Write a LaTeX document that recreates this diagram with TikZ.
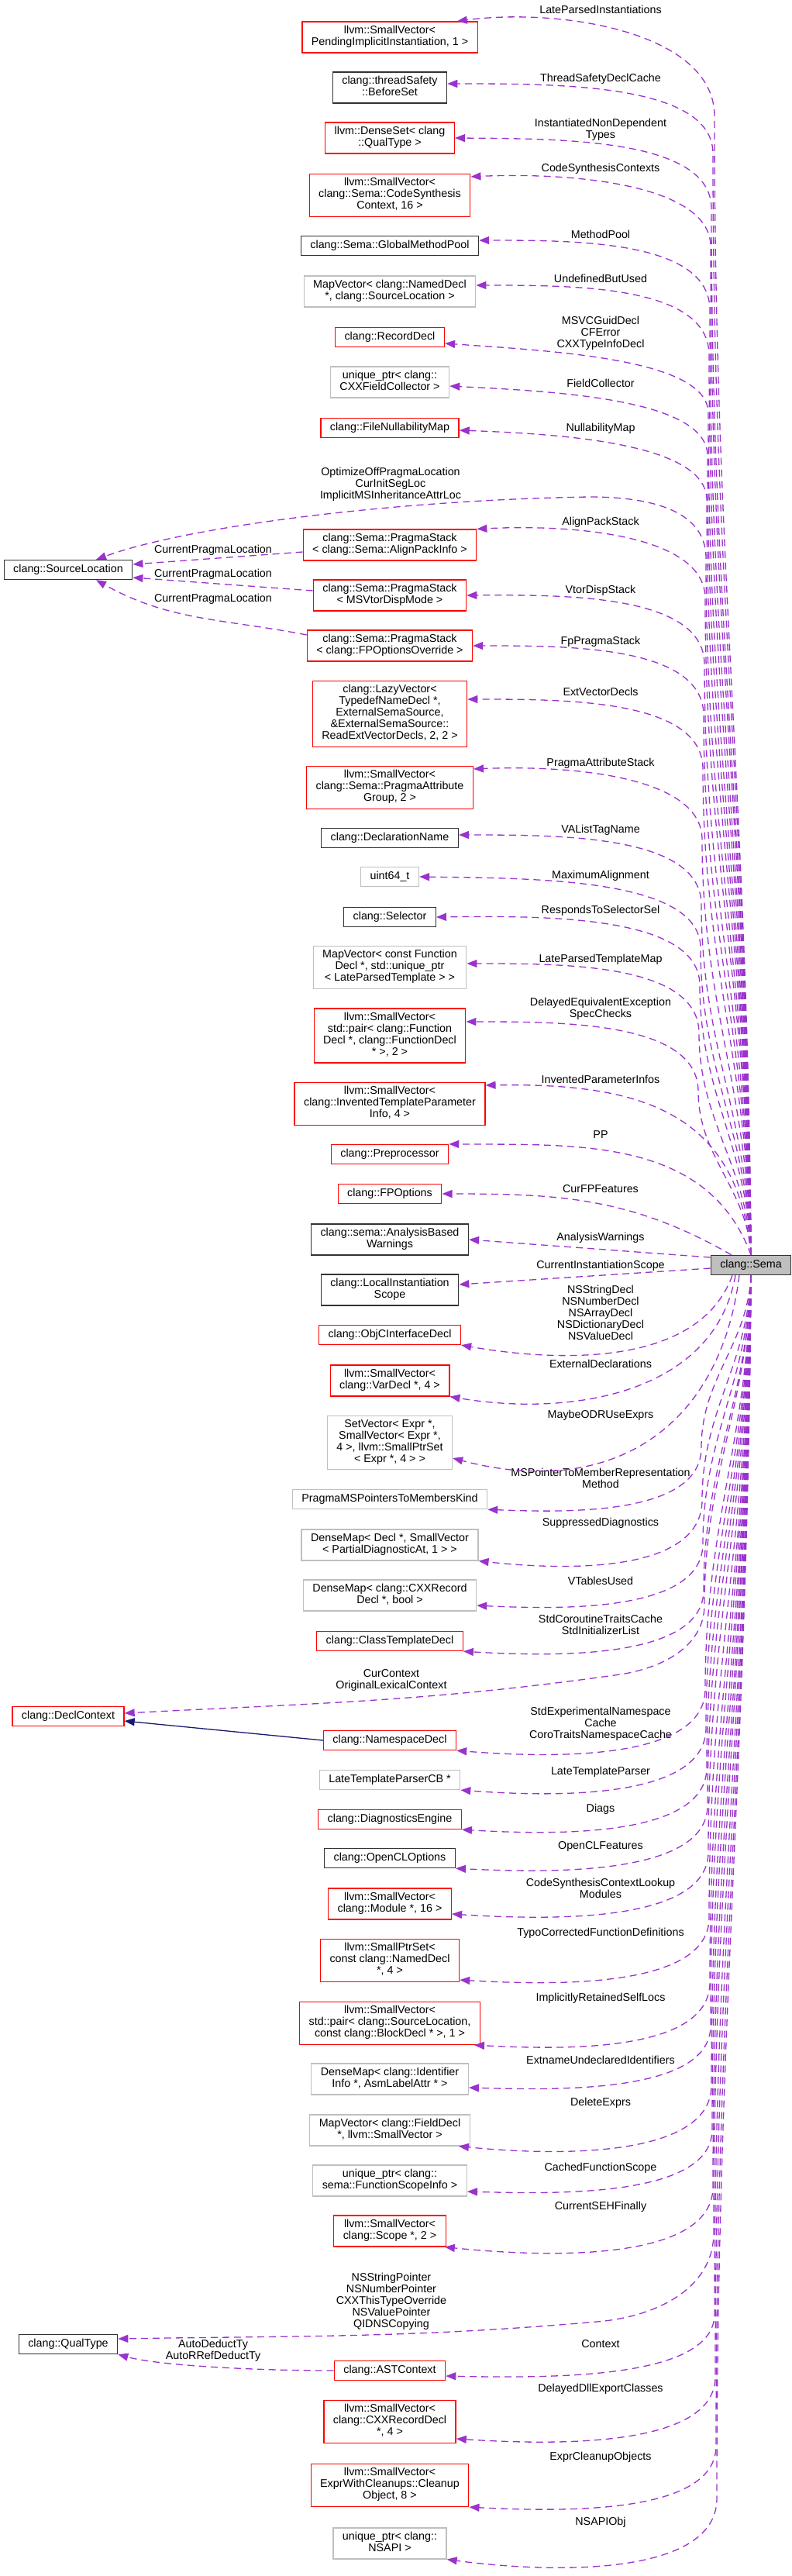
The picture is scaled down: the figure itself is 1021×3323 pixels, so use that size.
\documentclass[tikz,border=0pt]{standalone}
\usepackage{fontspec}
\setmainfont{Liberation Sans}
\usetikzlibrary{arrows.meta}
\definecolor{morado}{HTML}{9A32CD}
\definecolor{azulosc}{HTML}{191970}
\definecolor{grisclaro}{HTML}{BFBFBF}
\newcommand{\letra}{\fontsize{14.3}{15}\selectfont}

\begin{document}
\begin{tikzpicture}[
        x=1pt, y=1pt,
        caja/.style={rectangle, draw, line width=1.3pt, align=center, inner xsep=12pt, inner ysep=5pt, font=\letra, execute at begin node=\strut, execute at end node=\strut},
        roja/.style={caja, draw=red},
        negra/.style={caja, draw=black!80},
        gris/.style={caja, draw=grisclaro},
        etiqueta/.style={align=center, inner sep=0pt, font=\letra, execute at begin node=\strut, execute at end node=\strut},
        flecha/.style={-{Triangle[length=13pt,width=10pt]}, draw=morado, line width=1.3pt, dash pattern=on 9pt off 6pt},
        herencia/.style={-{Triangle[length=13pt,width=10pt]}, draw=azulosc, line width=1.3pt}
    ]
        \useasboundingbox (0,0) rectangle (1021,-3323);

        % central class
        \node[negra, fill=grisclaro] (sema) at (969,-1632) {clang::Sema};

        % left column
        \node[negra] (srcloc) at (88,-735) {clang::SourceLocation};
        \node[roja] (declctx) at (88,-2214) {clang::DeclContext};
        \node[negra] (qualtype) at (88,-3024) {clang::QualType};

        % member types
        \node[roja] (pendinst) at (503,-48) {llvm::SmallVector<\\ PendingImplicitInstantiation, 1 >};
        \node[negra] (beforeset) at (503,-113) {clang::threadSafety\\::BeforeSet};
        \node[roja] (denseset) at (503,-178) {llvm::DenseSet< clang\\::QualType >};
        \node[roja] (codesyn) at (503,-252) {llvm::SmallVector<\\ clang::Sema::CodeSynthesis\\Context, 16 >};
        \node[negra] (methodpool) at (503,-317) {clang::Sema::GlobalMethodPool};
        \node[gris] (undefmap) at (503,-376) {MapVector< clang::NamedDecl\\*, clang::SourceLocation >};
        \node[roja] (recorddecl) at (503,-435) {clang::RecordDecl};
        \node[gris] (fieldcoll) at (503,-493) {unique\_ptr< clang::\\CXXFieldCollector >};
        \node[roja] (nullmap) at (503,-552) {clang::FileNullabilityMap};
        \node[roja] (alignstack) at (503,-703) {clang::Sema::PragmaStack\\< clang::Sema::AlignPackInfo >};
        \node[roja] (vtorstack) at (503,-768) {clang::Sema::PragmaStack\\< MSVtorDispMode >};
        \node[roja] (fpstack) at (503,-833) {clang::Sema::PragmaStack\\< clang::FPOptionsOverride >};
        \node[roja] (lazyvec) at (503,-921) {clang::LazyVector<\\ TypedefNameDecl *,\\ ExternalSemaSource,\\ \&ExternalSemaSource::\\ReadExtVectorDecls, 2, 2 >};
        \node[roja] (pragattr) at (503,-1016) {llvm::SmallVector<\\ clang::Sema::PragmaAttribute\\Group, 2 >};
        \node[negra] (declname) at (503,-1081) {clang::DeclarationName};
        \node[gris] (maxalign) at (503,-1131) {uint64\_t};
        \node[negra] (selector) at (503,-1183) {clang::Selector};
        \node[gris] (lptmap) at (503,-1248) {MapVector< const Function\\Decl *, std::unique\_ptr\\< LateParsedTemplate > >};
        \node[roja] (eqexc) at (503,-1336) {llvm::SmallVector<\\ std::pair< clang::Function\\Decl *, clang::FunctionDecl\\* >, 2 >};
        \node[roja] (invparam) at (503,-1424) {llvm::SmallVector<\\ clang::InventedTemplateParameter\\Info, 4 >};
        \node[roja] (pp) at (503,-1489) {clang::Preprocessor};
        \node[roja] (fpopts) at (503,-1540) {clang::FPOptions};
        \node[negra] (warnings) at (503,-1599) {clang::sema::AnalysisBased\\Warnings};
        \node[negra] (localscope) at (503,-1664) {clang::LocalInstantiation\\Scope};
        \node[roja] (objciface) at (503,-1722) {clang::ObjCInterfaceDecl};
        \node[roja] (vardecls) at (503,-1781) {llvm::SmallVector<\\ clang::VarDecl *, 4 >};
        \node[gris] (odruse) at (503,-1861) {SetVector< Expr *,\\ SmallVector< Expr *,\\ 4 >, llvm::SmallPtrSet\\< Expr *, 4 > >};
        \node[gris] (ptrkind) at (503,-1934) {PragmaMSPointersToMembersKind};
        \node[gris] (suppdiag) at (503,-1993) {DenseMap< Decl *, SmallVector\\< PartialDiagnosticAt, 1 > >};
        \node[gris] (vtables) at (503,-2058) {DenseMap< clang::CXXRecord\\Decl *, bool >};
        \node[roja] (classtmpl) at (503,-2117) {clang::ClassTemplateDecl};
        \node[roja] (nsdecl) at (503,-2245) {clang::NamespaceDecl};
        \node[gris] (lateparser) at (503,-2296) {LateTemplateParserCB *};
        \node[roja] (diags) at (503,-2347) {clang::DiagnosticsEngine};
        \node[negra] (openclopts) at (503,-2397) {clang::OpenCLOptions};
        \node[roja] (modules) at (503,-2456) {llvm::SmallVector<\\ clang::Module *, 16 >};
        \node[roja] (typocorr) at (503,-2529) {llvm::SmallPtrSet<\\ const clang::NamedDecl\\*, 4 >};
        \node[roja] (selflocs) at (503,-2610) {llvm::SmallVector<\\ std::pair< clang::SourceLocation,\\ const clang::BlockDecl * >, 1 >};
        \node[gris] (extname) at (503,-2682) {DenseMap< clang::Identifier\\Info *, AsmLabelAttr * >};
        \node[gris] (delexprs) at (503,-2748) {MapVector< clang::FieldDecl\\*, llvm::SmallVector >};
        \node[gris] (funcscope) at (503,-2813) {unique\_ptr< clang::\\sema::FunctionScopeInfo >};
        \node[roja] (scopes) at (503,-2878) {llvm::SmallVector<\\ clang::Scope *, 2 >};
        \node[roja] (astctx) at (503,-3058) {clang::ASTContext};
        \node[roja] (dllexport) at (503,-3124) {llvm::SmallVector<\\ clang::CXXRecordDecl\\*, 4 >};
        \node[roja] (cleanups) at (503,-3206) {llvm::SmallVector<\\ ExprWithCleanups::Cleanup\\Object, 8 >};
        \node[gris] (nsapi) at (503,-3281) {unique\_ptr< clang::\\NSAPI >};

        % member labels
        \node[etiqueta] (lbinst) at (775,-14) {LateParsedInstantiations};
        \node[etiqueta] (lbsafety) at (775,-102) {ThreadSafetyDeclCache};
        \node[etiqueta] (lbnondep) at (775,-168) {InstantiatedNonDependent\\Types};
        \node[etiqueta] (lbcodesyn) at (775,-218) {CodeSynthesisContexts};
        \node[etiqueta] (lbpool) at (775,-304) {MethodPool};
        \node[etiqueta] (lbundef) at (775,-361) {UndefinedButUsed};
        \node[etiqueta] (lbrecord) at (775,-431) {MSVCGuidDecl\\CFError\\CXXTypeInfoDecl};
        \node[etiqueta] (lbfield) at (775,-496) {FieldCollector};
        \node[etiqueta] (lbnull) at (775,-553) {NullabilityMap};
        \node[etiqueta] (lbloc) at (504,-626) {OptimizeOffPragmaLocation\\CurInitSegLoc\\ImplicitMSInheritanceAttrLoc};
        \node[etiqueta] (lbalign) at (775,-674) {AlignPackStack};
        \node[etiqueta] (lbvtor) at (775,-762) {VtorDispStack};
        \node[etiqueta] (lbfp) at (775,-828) {FpPragmaStack};
        \node[etiqueta] (lbcura) at (275,-710) {CurrentPragmaLocation};
        \node[etiqueta] (lbcurb) at (275,-741) {CurrentPragmaLocation};
        \node[etiqueta] (lbcurc) at (275,-773) {CurrentPragmaLocation};
        \node[etiqueta] (lbext) at (775,-894) {ExtVectorDecls};
        \node[etiqueta] (lbpragattr) at (775,-985) {PragmaAttributeStack};
        \node[etiqueta] (lbvalist) at (775,-1071) {VAListTagName};
        \node[etiqueta] (lbmaxalign) at (775,-1130) {MaximumAlignment};
        \node[etiqueta] (lbresponds) at (775,-1175) {RespondsToSelectorSel};
        \node[etiqueta] (lblptmap) at (775,-1238) {LateParsedTemplateMap};
        \node[etiqueta] (lbeqexc) at (775,-1302) {DelayedEquivalentException\\SpecChecks};
        \node[etiqueta] (lbinvparam) at (775,-1394) {InventedParameterInfos};
        \node[etiqueta] (lbpp) at (775,-1465) {PP};
        \node[etiqueta] (lbfpfeat) at (775,-1535) {CurFPFeatures};
        \node[etiqueta] (lbwarn) at (775,-1597) {AnalysisWarnings};
        \node[etiqueta] (lbscope) at (775,-1633) {CurrentInstantiationScope};
        \node[etiqueta] (lbnsdecl) at (775,-1696) {NSStringDecl\\NSNumberDecl\\NSArrayDecl\\NSDictionaryDecl\\NSValueDecl};
        \node[etiqueta] (lbextdecl) at (775,-1761) {ExternalDeclarations};
        \node[etiqueta] (lbodr) at (775,-1826) {MaybeODRUseExprs};
        \node[etiqueta] (lbptrrep) at (775,-1909) {MSPointerToMemberRepresentation\\Method};
        \node[etiqueta] (lbsupp) at (775,-1965) {SuppressedDiagnostics};
        \node[etiqueta] (lbvtables) at (775,-2041) {VTablesUsed};
        \node[etiqueta] (lbcoro) at (775,-2098) {StdCoroutineTraitsCache\\StdInitializerList};
        \node[etiqueta] (lbcurctx) at (505,-2168) {CurContext\\OriginalLexicalContext};
        \node[etiqueta] (lbstdexp) at (775,-2225) {StdExperimentalNamespace\\Cache\\CoroTraitsNamespaceCache};
        \node[etiqueta] (lblateparser) at (775,-2286) {LateTemplateParser};
        \node[etiqueta] (lbdiags) at (775,-2334) {Diags};
        \node[etiqueta] (lbopencl) at (775,-2382) {OpenCLFeatures};
        \node[etiqueta] (lbmodules) at (775,-2438) {CodeSynthesisContextLookup\\Modules};
        \node[etiqueta] (lbtypo) at (775,-2494) {TypoCorrectedFunctionDefinitions};
        \node[etiqueta] (lbself) at (775,-2578) {ImplicitlyRetainedSelfLocs};
        \node[etiqueta] (lbextname) at (775,-2659) {ExtnameUndeclaredIdentifiers};
        \node[etiqueta] (lbdelete) at (775,-2713) {DeleteExprs};
        \node[etiqueta] (lbcached) at (775,-2797) {CachedFunctionScope};
        \node[etiqueta] (lbseh) at (775,-2847) {CurrentSEHFinally};
        \node[etiqueta] (lbqual) at (505,-2970) {NSStringPointer\\NSNumberPointer\\CXXThisTypeOverride\\NSValuePointer\\QIDNSCopying};
        \node[etiqueta] (lbauto) at (275,-3033) {AutoDeductTy\\AutoRRefDeductTy};
        \node[etiqueta] (lbcontext) at (775,-3025) {Context};
        \node[etiqueta] (lbdll) at (775,-3082) {DelayedDllExportClasses};
        \node[etiqueta] (lbcleanup) at (775,-3170) {ExprCleanupObjects};
        \node[etiqueta] (lbnsapi) at (775,-3254) {NSAPIObj};

        % edges above clang::Sema
        \draw[flecha] (sema.north) .. controls (965,-1031) and (922,-738) .. (922,-150) .. controls (922,-40) and (720,-10) .. ([xshift=-27pt]pendinst.north east);
        \draw[flecha] (sema.north) .. controls (965,-1051) and (920,-766) .. (920,-198) .. controls (920,-108) and (722,-108) .. ([yshift=5pt]beforeset.east);
        \draw[flecha] (sema.north) .. controls (965,-1079) and (918,-809) .. (918,-269) .. controls (918,-179) and (727,-179) .. (denseset.east);
        \draw[flecha] (sema.north) .. controls (965,-1099) and (917,-838) .. (917,-318) .. controls (917,-238) and (739,-222) .. ([yshift=-4pt]codesyn.north east);
        \draw[flecha] (sema.north) .. controls (965,-1131) and (916,-888) .. (916,-400) .. controls (916,-310) and (744,-310) .. ([yshift=7pt]methodpool.east);
        \draw[flecha] (sema.north) .. controls (965,-1155) and (915,-922) .. (915,-458) .. controls (915,-368) and (742,-368) .. ([yshift=8pt]undefmap.east);
        \draw[flecha] (sema.north) .. controls (965,-1185) and (914,-967) .. (914,-533) .. controls (914,-463) and (716,-453) .. ([yshift=-8pt]recorddecl.east);
        \draw[flecha] (sema.north) .. controls (965,-1207) and (913,-1000) .. (913,-588) .. controls (913,-515) and (720,-505) .. ([yshift=-5pt]fieldcoll.east);
        \draw[flecha] (sema.north) .. controls (965,-1229) and (912,-1035) .. (912,-645) .. controls (912,-572) and (728,-560) .. ([yshift=-3pt]nullmap.east);
        \draw[flecha] (sema.north) .. controls (965,-1259) and (911,-1080) .. (911,-720) .. controls (911,-653) and (827,-641) .. (760,-641) .. controls (510,-645) and (241,-679) .. ([xshift=36pt]srcloc.north);
        \draw[flecha] (sema.north) .. controls (965,-1280) and (910,-1111) .. (910,-772) .. controls (910,-690) and (740,-676) .. (alignstack.north east);
        \draw[flecha] (sema.north) .. controls (965,-1314) and (909,-1162) .. (909,-857) .. controls (909,-767) and (731,-767) .. (vtorstack.east);
        \draw[flecha] (sema.north) .. controls (965,-1341) and (908,-1201) .. (908,-923) .. controls (908,-833) and (736,-833) .. (fpstack.east);
        \draw[flecha] (sema.north) .. controls (965,-1368) and (907,-1243) .. (907,-992) .. controls (907,-902) and (731,-902) .. ([yshift=19pt]lazyvec.east);
        \draw[flecha] (sema.north) .. controls (965,-1405) and (906,-1297) .. (906,-1083) .. controls (906,-1001) and (737,-987) .. ([yshift=-4pt]pragattr.north east);
        \draw[flecha] (sema.north) .. controls (965,-1438) and (905,-1348) .. (905,-1167) .. controls (905,-1077) and (724,-1077) .. ([yshift=4pt]declname.east);
        \draw[flecha] (sema.north) .. controls (965,-1461) and (904,-1381) .. (904,-1223) .. controls (904,-1133) and (693,-1133) .. (maxalign.east);
        \draw[flecha] (sema.north) .. controls (965,-1480) and (903,-1410) .. (903,-1271) .. controls (903,-1181) and (706,-1181) .. (selector.east);
        \draw[flecha] (sema.north) .. controls (965,-1505) and (902,-1447) .. (902,-1333) .. controls (902,-1243) and (729,-1243) .. ([yshift=5pt]lptmap.east);
        \draw[flecha] (sema.north) .. controls (965,-1535) and (901,-1492) .. (901,-1408) .. controls (901,-1318) and (727,-1318) .. ([yshift=18pt]eqexc.east);
        \draw[flecha] (sema.north) .. controls (952,-1430) and (820,-1397) .. ([yshift=-4pt]invparam.north east);
        \draw[flecha] (sema.north) .. controls (913,-1466) and (741,-1477) .. (pp.north east);
        \draw[flecha] ([xshift=-25pt]sema.north) .. controls (814,-1544) and (719,-1540) .. (fpopts.east);
        \draw[flecha] ([yshift=10pt]sema.west) -- (warnings.east);
        \draw[flecha] ([yshift=-4pt]sema.west) -- ([yshift=7pt]localscope.east);

        % pragma stacks to SourceLocation
        \draw[flecha] ([yshift=-9pt]alignstack.west) -- ([yshift=7pt]srcloc.east);
        \draw[flecha] ([yshift=6pt]vtorstack.west) -- ([yshift=-10pt]srcloc.east);
        \draw[flecha] ([yshift=14pt]fpstack.west) .. controls (287,-798) and (218,-801) .. ([xshift=36pt]srcloc.south);

        % edges below clang::Sema
        \draw[flecha] ([xshift=-24pt]sema.south) .. controls (902,-1764) and (720,-1757) .. (objciface.south east);
        \draw[flecha] ([xshift=-20pt]sema.south) .. controls (922,-1798) and (737,-1828) .. (vardecls.south east);
        \draw[flecha] ([xshift=-15pt]sema.south) .. controls (929,-1846) and (785,-1934) .. ([yshift=-20pt]odruse.east);
        \draw[flecha] (sema.south) .. controls (965,-1734) and (905,-1778) .. (905,-1867) .. controls (905,-1952) and (745,-1952) .. (ptrkind.south east);
        \draw[flecha] (sema.south) .. controls (965,-1761) and (906,-1819) .. (906,-1935) .. controls (906,-2027) and (740,-2027) .. (suppdiag.south east);
        \draw[flecha] (sema.south) .. controls (965,-1783) and (907,-1853) .. (907,-1991) .. controls (907,-2077) and (738,-2077) .. ([yshift=-13pt]vtables.east);
        \draw[flecha] (sema.south) .. controls (965,-1807) and (908,-1889) .. (908,-2051) .. controls (908,-2138) and (728,-2138) .. (classtmpl.south east);
        \draw[flecha] (sema.south) .. controls (965,-1815) and (909,-1900) .. (909,-2070) .. controls (909,-2125) and (853,-2152) .. (800,-2160) .. controls (552,-2195) and (410,-2197) .. ([yshift=4pt]declctx.east);
        \draw[flecha] (sema.south) .. controls (965,-1859) and (910,-1965) .. (910,-2179) .. controls (910,-2269) and (724,-2269) .. (nsdecl.south east);
        \draw[flecha] (sema.south) .. controls (965,-1879) and (911,-1995) .. (911,-2229) .. controls (911,-2319) and (727,-2319) .. (lateparser.south east);
        \draw[flecha] (sema.south) .. controls (965,-1899) and (912,-2026) .. (912,-2280) .. controls (912,-2368) and (729,-2368) .. (diags.south east);
        \draw[flecha] (sema.south) .. controls (965,-1919) and (913,-2055) .. (913,-2329) .. controls (913,-2417) and (723,-2417) .. (openclopts.south east);
        \draw[flecha] (sema.south) .. controls (965,-1943) and (914,-2091) .. (914,-2389) .. controls (914,-2478) and (724,-2478) .. ([yshift=-13pt]modules.east);
        \draw[flecha] (sema.south) .. controls (965,-1977) and (915,-2142) .. (915,-2474) .. controls (915,-2562) and (730,-2562) .. ([yshift=3pt]typocorr.south east);
        \draw[flecha] (sema.south) .. controls (965,-2010) and (916,-2192) .. (916,-2557) .. controls (916,-2645) and (741,-2645) .. ([xshift=-8pt]selflocs.south east);
        \draw[flecha] (sema.south) .. controls (965,-2032) and (917,-2226) .. (917,-2613) .. controls (917,-2697) and (738,-2697) .. ([yshift=-11pt]extname.east);
        \draw[flecha] (sema.south) .. controls (965,-2063) and (918,-2272) .. (918,-2690) .. controls (918,-2782) and (727,-2782) .. ([xshift=-15pt]delexprs.south east);
        \draw[flecha] (sema.south) .. controls (965,-2086) and (919,-2306) .. (919,-2747) .. controls (919,-2831) and (736,-2831) .. ([yshift=-14pt]funcscope.east);
        \draw[flecha] (sema.south) .. controls (965,-2115) and (920,-2351) .. (920,-2821) .. controls (920,-2914) and (724,-2914) .. ([xshift=-2pt]scopes.south east);
        \draw[flecha] (sema.south) .. controls (965,-2139) and (921,-2386) .. (921,-2880) .. controls (921,-2954) and (844,-2989) .. (770,-2995) .. controls (529,-3016) and (392,-3013) .. ([yshift=7pt]qualtype.east);
        \draw[flecha] (sema.south) .. controls (965,-2181) and (922,-2449) .. (922,-2985) .. controls (922,-3068) and (720,-3068) .. ([yshift=-7pt]astctx.east);
        \draw[flecha] (sema.south) .. controls (965,-2213) and (923,-2498) .. (923,-3066) .. controls (923,-3155) and (729,-3155) .. ([yshift=-22pt]dllexport.east);
        \draw[flecha] (sema.south) .. controls (965,-2249) and (924,-2551) .. (924,-3155) .. controls (924,-3241) and (741,-3241) .. (cleanups.south east);
        \draw[flecha] (sema.south) .. controls (965,-2276) and (925,-2592) .. (925,-3223) .. controls (925,-3321) and (724,-3321) .. (nsapi.south east);

        % ASTContext to QualType, inheritance to DeclContext
        \draw[flecha] (astctx.west) .. controls (323,-3058) and (203,-3051) .. (qualtype.south east);
        \draw[herencia] (nsdecl.west) -- ([yshift=-6pt]declctx.east);
    \end{tikzpicture}
\end{document}
